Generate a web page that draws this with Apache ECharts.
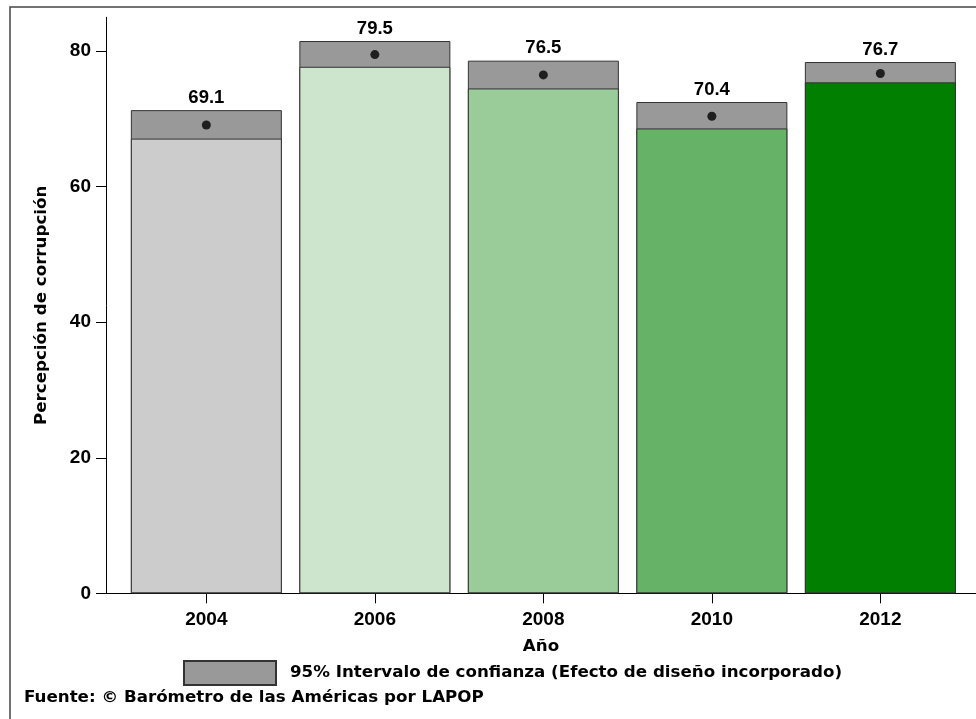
<!DOCTYPE html>
<html>
<head>
<meta charset="utf-8">
<script src="https://cdn.jsdelivr.net/npm/echarts@6/dist/echarts.min.js"></script>
<style>
  html, body { margin: 0; padding: 0; background: #fff; }
  #chart { width: 976px; height: 719px; }
</style>
</head>
<body>
<div id="chart"></div>
<script>
// Survey years and corruption-perception estimates
const years = [2004, 2006, 2008, 2010, 2012];
const means = [69.1, 79.5, 76.5, 70.4, 76.7];
const ciLower = [67.1, 77.7, 74.5, 68.6, 75.4];
const ciUpper = [71.3, 81.5, 78.6, 72.5, 78.4];
const yTicks = [0, 20, 40, 60, 80];
const barColors = ['#cccccc', '#cce5cc', '#99cc99', '#66b266', '#007f00'];

const ciName = '95% Intervalo de confianza (Efecto de diseño incorporado)';
const NUM_FONT = '"Liberation Sans", Arial, sans-serif';
const TXT_FONT = '"DejaVu Sans", Verdana, sans-serif';
const TXT_SIZE = 16.7;

const chart = echarts.init(document.getElementById('chart'), null, { renderer: 'canvas' });

// Coloured bar runs from 0 to the lower bound; the grey interval box
// (drawn underneath, 0 to upper bound) shows above it.
const baseData = years.map((y, i) => ({
  value: [y, ciLower[i]],
  itemStyle: { color: barColors[i] }
}));
const ciData = years.map((y, i) => [y, ciUpper[i]]);
const dotData = years.map((y, i) => [y, means[i]]);

chart.setOption({
  animation: false,
  backgroundColor: '#fff',
  textStyle: { fontFamily: NUM_FONT },
  title: {
    text: 'Fuente: © Barómetro de las Américas por LAPOP',
    left: 24,
    top: 689,
    padding: 0,
    textStyle: { fontFamily: TXT_FONT, fontSize: TXT_SIZE, fontWeight: 'bold', color: '#000' }
  },
  legend: {
    left: 183,
    top: 660,
    padding: 0,
    itemWidth: 92,
    itemHeight: 24,
    data: [{ name: ciName, icon: 'rect' }],
    selectedMode: false,
    textStyle: { fontFamily: TXT_FONT, fontSize: TXT_SIZE, fontWeight: 'bold', color: '#000', padding: [0, 0, 0, 9] }
  },
  grid: { left: 106, right: 0, top: 17.3, bottom: 125.7 },
  xAxis: {
    type: 'value',
    min: 2002.809,
    max: 2013.135,
    name: 'Año',
    nameLocation: 'middle',
    nameGap: 45,
    nameTextStyle: { fontFamily: TXT_FONT, fontSize: TXT_SIZE, fontWeight: 'bold', color: '#000' },
    axisLine: { show: true, lineStyle: { color: '#000', width: 1 } },
    axisTick: { show: true, length: 10, customValues: years, lineStyle: { color: '#000' } },
    axisLabel: {
      customValues: years,
      formatter: v => String(v),
      margin: 17,
      fontFamily: NUM_FONT, fontSize: 19, fontWeight: 'bold', color: '#000'
    },
    splitLine: { show: false }
  },
  yAxis: {
    type: 'value',
    min: 0,
    max: 85,
    name: 'Percepción de corrupción',
    nameLocation: 'middle',
    nameGap: 56,
    nameTextStyle: { fontFamily: TXT_FONT, fontSize: TXT_SIZE, fontWeight: 'bold', color: '#000' },
    axisLine: { show: true, lineStyle: { color: '#000', width: 1 } },
    axisTick: { show: true, length: 10, customValues: yTicks, lineStyle: { color: '#000' } },
    axisLabel: {
      customValues: yTicks,
      margin: 15,
      fontFamily: NUM_FONT, fontSize: 19, fontWeight: 'bold', color: '#000'
    },
    splitLine: { show: false }
  },
  series: [
    {
      name: ciName,
      type: 'bar',
      barWidth: 151,
      barGap: '-100%',
      data: ciData,
      itemStyle: { color: '#999999', borderColor: '#333', borderWidth: 1 },
      label: {
        show: true,
        position: 'top',
        distance: 3,
        formatter: p => means[p.dataIndex].toFixed(1),
        fontFamily: NUM_FONT, fontSize: 18.5, fontWeight: 'bold', color: '#000'
      },
      silent: true
    },
    {
      name: 'base',
      type: 'bar',
      barWidth: 151,
      barGap: '-100%',
      data: baseData,
      itemStyle: { borderColor: '#333', borderWidth: 1 },
      silent: true
    },
    {
      name: 'mean',
      type: 'scatter',
      data: dotData,
      symbol: 'circle',
      symbolSize: 9,
      itemStyle: { color: '#000' },
      z: 5,
      silent: true
    }
  ],
  graphic: [
    {
      type: 'rect',
      shape: { x: 10, y: 7, width: 1000, height: 800 },
      style: { fill: null, stroke: '#444', lineWidth: 1.5 },
      silent: true,
      z: 100
    }
  ]
});
</script>
</body>
</html>
